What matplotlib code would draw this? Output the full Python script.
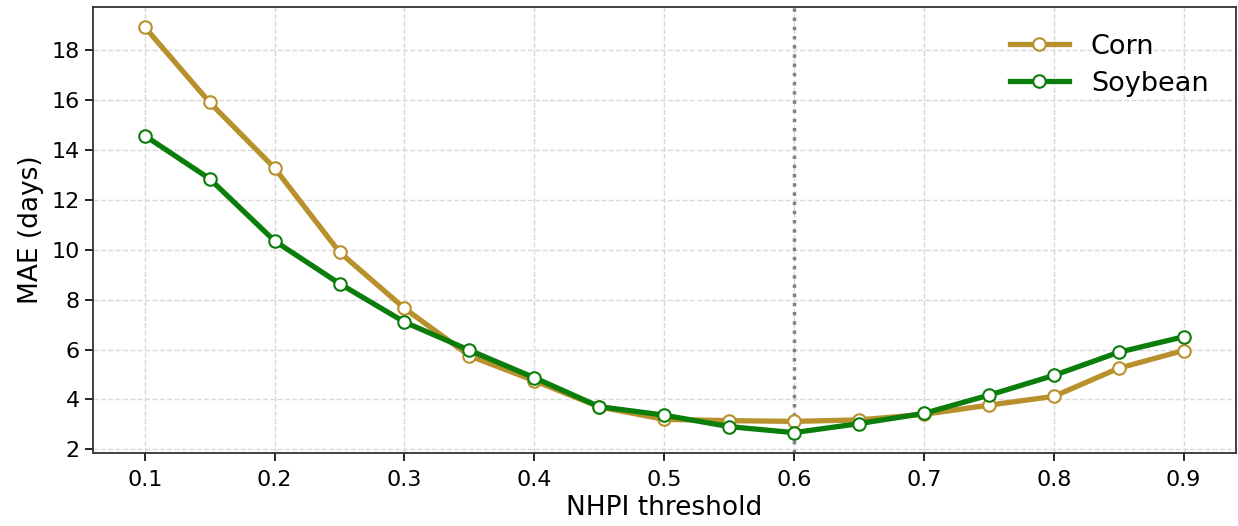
import matplotlib
matplotlib.use("Agg")
import matplotlib.pyplot as plt

thresholds = [0.1, 0.15, 0.2, 0.25, 0.3, 0.35, 0.4, 0.45, 0.5, 0.55, 0.6, 0.65, 0.7, 0.75, 0.8, 0.85, 0.9]
corn = [18.92, 15.9, 13.27, 9.9, 7.65, 5.75, 4.75, 3.7, 3.2, 3.15, 3.12, 3.18, 3.4, 3.77, 4.12, 5.25, 5.96]
soybean = [14.57, 12.84, 10.35, 8.64, 7.1, 5.97, 4.87, 3.71, 3.37, 2.91, 2.67, 3.03, 3.44, 4.17, 4.96, 5.89, 6.51]
xticks = [0.1, 0.2, 0.3, 0.4, 0.5, 0.6, 0.7, 0.8, 0.9]
yticks = [2, 4, 6, 8, 10, 12, 14, 16, 18]
best_threshold = 0.6

corn_color = "#B8902C"
soy_color = "#0A7D0A"

fig = plt.figure(figsize=(12.38, 5.26), dpi=100)
ax = fig.add_axes([0.075, 0.139, 0.923, 0.848])

ax.axvline(best_threshold, color="#808080", linestyle=":", linewidth=2.5, zorder=1)
ax.plot(thresholds, corn, color=corn_color, linewidth=3.8, marker="o", markersize=9,
        markerfacecolor="white", markeredgecolor=corn_color, markeredgewidth=1.5, label="Corn", zorder=3)
ax.plot(thresholds, soybean, color=soy_color, linewidth=3.8, marker="o", markersize=9,
        markerfacecolor="white", markeredgecolor=soy_color, markeredgewidth=1.5, label="Soybean", zorder=4)

ax.set_xticks(xticks)
ax.set_xticklabels([f"{v:.1f}" for v in xticks])
ax.set_yticks(yticks)
ax.tick_params(axis="both", labelsize=16, length=6, width=1.2)
ax.tick_params(axis="x", pad=6)
ax.grid(True, linestyle="--", color="#d8d8d8", linewidth=1.0)
ax.set_axisbelow(True)
for s in ax.spines.values():
    s.set_linewidth(1.3)
    s.set_color("#333333")

ax.set_xlabel("NHPI threshold", fontsize=19, labelpad=4)
ax.set_ylabel("MAE (days)", fontsize=19, labelpad=5)

ax.legend(loc="upper right", fontsize=19.5, frameon=False, handlelength=2.2,
          labelspacing=0.4, borderaxespad=0.6)

fig.savefig("out.png", dpi=100)
